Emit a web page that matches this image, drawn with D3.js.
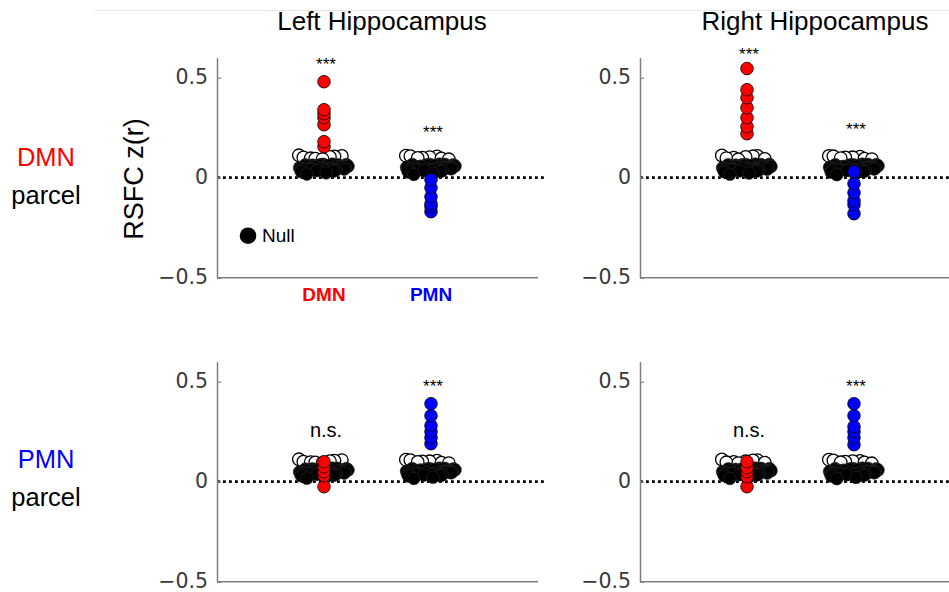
<!DOCTYPE html>
<html>
<head>
<meta charset="utf-8">
<script src="https://cdn.jsdelivr.net/npm/d3@7"></script>
<style>
  body { margin: 0; background: #fff; }
  svg { display: block; }
</style>
</head>
<body>
<svg id="chart" width="949" height="592"></svg>
<script>
// ---- categories and labels ----
const hemispheres = ["Left Hippocampus", "Right Hippocampus"];
const parcels = ["DMN", "PMN"];
const networks = ["DMN", "PMN"];
const yTicks = [-0.5, 0, 0.5];

// ---- observed RSFC z(r) values (hemisphere / parcel / network) ----
const leftDMNparcelDMN   = [0.48, 0.34, 0.32, 0.30, 0.265, 0.18, 0.155];
const leftDMNparcelPMN   = [-0.01, -0.05, -0.095, -0.13, -0.145, -0.17];
const rightDMNparcelDMN  = [0.546, 0.44, 0.40, 0.35, 0.30, 0.255, 0.22];
const rightDMNparcelPMN  = [0.03, -0.03, -0.075, -0.115, -0.135, -0.18];
const leftPMNparcelDMN   = [0.10, 0.075, 0.05, 0.03, -0.025];
const leftPMNparcelPMN   = [0.39, 0.33, 0.28, 0.25, 0.22, 0.19];
const rightPMNparcelDMN  = [0.10, 0.07, 0.05, 0.025, -0.025];
const rightPMNparcelPMN  = [0.39, 0.33, 0.275, 0.25, 0.22, 0.185];

// ---- null (spatially permuted) distributions ----
const nullLeftDMNparcelDMN  = [0.112,0.104,0.097,0.109,0.093,0.101,0.106,0.095,
  0.066,0.061,0.058,0.052,0.047,0.043,0.038,0.063,0.055,0.049,0.064,0.041,0.035,0.057,0.060,0.045,0.051,0.066,
  0.039,0.033,0.059,0.054,0.024,0.018,0.065,0.062,0.050,0.044,0.040,0.056,0.067,0.048,0.036,0.053,0.061,0.046,0.042,0.058,0.064,0.030,
  0.068,0.057,0.043,0.037,0.062,0.052];
const nullLeftDMNparcelPMN  = [0.110,0.106,0.099,0.092,0.103,0.108,0.096,0.100,
  0.065,0.059,0.053,0.048,0.044,0.040,0.062,0.056,0.050,0.037,0.066,0.046,0.034,0.058,0.061,0.042,0.052,0.064,
  0.038,0.031,0.057,0.049,0.021,0.016,0.067,0.063,0.051,0.045,0.041,0.055,0.066,0.047,0.035,0.054,0.060,0.043,0.039,0.059,0.062,0.028,
  0.068,0.056,0.044,0.036,0.063,0.050];
const nullRightDMNparcelDMN = [0.111,0.107,0.100,0.094,0.104,0.098,0.109,0.092,
  0.067,0.060,0.055,0.050,0.046,0.042,0.037,0.063,0.057,0.048,0.065,0.040,0.034,0.056,0.061,0.044,0.053,0.062,
  0.039,0.032,0.058,0.051,0.023,0.017,0.066,0.064,0.049,0.045,0.041,0.054,0.066,0.047,0.036,0.052,0.060,0.043,0.038,0.059,0.063,0.029,
  0.068,0.055,0.042,0.037,0.061,0.051];
const nullRightDMNparcelPMN = [0.109,0.105,0.098,0.093,0.102,0.107,0.095,0.101,
  0.066,0.058,0.054,0.049,0.045,0.041,0.063,0.055,0.051,0.036,0.065,0.047,0.035,0.059,0.060,0.043,0.050,0.064,
  0.037,0.030,0.056,0.048,0.022,0.015,0.067,0.062,0.052,0.044,0.040,0.057,0.065,0.046,0.034,0.053,0.061,0.042,0.038,0.058,0.063,0.027,
  0.068,0.056,0.043,0.037,0.062,0.050];
const nullLeftPMNparcelDMN  = [0.112,0.103,0.098,0.108,0.094,0.100,0.105,0.096,
  0.066,0.062,0.057,0.051,0.048,0.042,0.037,0.064,0.054,0.050,0.063,0.040,0.036,0.058,0.059,0.046,0.052,0.065,
  0.038,0.032,0.060,0.053,0.023,0.017,0.067,0.061,0.049,0.045,0.041,0.055,0.066,0.047,0.035,0.054,0.062,0.044,0.039,0.057,0.064,0.029,
  0.068,0.056,0.043,0.036,0.061,0.051];
const nullLeftPMNparcelPMN  = [0.110,0.105,0.099,0.093,0.102,0.108,0.095,0.101,
  0.064,0.060,0.054,0.047,0.045,0.039,0.063,0.057,0.049,0.036,0.066,0.045,0.033,0.059,0.062,0.043,0.053,0.063,
  0.037,0.030,0.058,0.050,0.022,0.016,0.067,0.061,0.052,0.044,0.040,0.056,0.065,0.048,0.035,0.055,0.060,0.042,0.038,0.058,0.064,0.028,
  0.068,0.057,0.044,0.037,0.062,0.051];
const nullRightPMNparcelDMN = [0.111,0.106,0.099,0.095,0.103,0.097,0.108,0.093,
  0.066,0.061,0.056,0.051,0.047,0.041,0.038,0.062,0.056,0.049,0.064,0.041,0.035,0.055,0.060,0.045,0.052,0.063,
  0.040,0.033,0.057,0.050,0.024,0.016,0.067,0.063,0.050,0.046,0.042,0.054,0.065,0.048,0.036,0.053,0.061,0.044,0.039,0.058,0.064,0.030,
  0.068,0.057,0.043,0.037,0.062,0.052];
const nullRightPMNparcelPMN = [0.110,0.104,0.097,0.092,0.103,0.106,0.096,0.100,
  0.065,0.059,0.055,0.048,0.044,0.040,0.062,0.056,0.050,0.037,0.066,0.046,0.034,0.058,0.061,0.042,0.051,0.064,
  0.038,0.031,0.057,0.049,0.021,0.015,0.067,0.062,0.051,0.045,0.041,0.055,0.066,0.047,0.035,0.053,0.060,0.043,0.039,0.059,0.063,0.028,
  0.068,0.056,0.044,0.036,0.061,0.050];

// ---- significance labels and their heights (data units) ----
const sigLeftDMNparcel  = ["***", "***"];
const sigRightDMNparcel = ["***", "***"];
const sigLeftPMNparcel  = ["n.s.", "***"];
const sigRightPMNparcel = ["n.s.", "***"];
const sigYLeftDMNparcel  = [0.54, 0.20];
const sigYRightDMNparcel = [0.59, 0.214];
const sigYLeftPMNparcel  = [0.225, 0.45];
const sigYRightPMNparcel = [0.225, 0.45];

// ---- panel table assembled from the arrays above ----
const panels = [
  { row: 0, col: 0, obs: [leftDMNparcelDMN, leftDMNparcelPMN],   nul: [nullLeftDMNparcelDMN, nullLeftDMNparcelPMN],   sig: sigLeftDMNparcel,  sigY: sigYLeftDMNparcel },
  { row: 0, col: 1, obs: [rightDMNparcelDMN, rightDMNparcelPMN], nul: [nullRightDMNparcelDMN, nullRightDMNparcelPMN], sig: sigRightDMNparcel, sigY: sigYRightDMNparcel },
  { row: 1, col: 0, obs: [leftPMNparcelDMN, leftPMNparcelPMN],   nul: [nullLeftPMNparcelDMN, nullLeftPMNparcelPMN],   sig: sigLeftPMNparcel,  sigY: sigYLeftPMNparcel },
  { row: 1, col: 1, obs: [rightPMNparcelDMN, rightPMNparcelPMN], nul: [nullRightPMNparcelDMN, nullRightPMNparcelPMN], sig: sigRightPMNparcel, sigY: sigYRightPMNparcel }
];

// ---- layout ----
const colX = [217, 640];
const rowY = [57.7, 361.7];
const W = 321, H = 220;
const R = 6.3;
const netColor = { DMN: "#ff0000", PMN: "#0000ff" };
const axisGray = "#7f7f7f";
const sans = "'Liberation Sans', Arial, sans-serif";
const tickFont = "'DejaVu Sans', sans-serif";

const svg = d3.select("#chart");

// thin rule across the top
svg.append("line")
  .attr("x1", 95).attr("x2", 949).attr("y1", 10.5).attr("y2", 10.5)
  .attr("stroke", "#e6e6e6").attr("stroke-width", 1);

// column titles
const titleX = [382, 815];
hemispheres.forEach((h, i) => {
  svg.append("text")
    .attr("x", titleX[i]).attr("y", 30)
    .attr("text-anchor", "middle")
    .attr("font-family", sans).attr("font-size", 26)
    .attr("fill", "#000")
    .text(h);
});

// row labels
const rowLabelY = [[166, 204], [468, 506]];
parcels.forEach((p, i) => {
  svg.append("text")
    .attr("x", 46).attr("y", rowLabelY[i][0])
    .attr("text-anchor", "middle")
    .attr("font-family", sans).attr("font-size", 25.5)
    .attr("fill", netColor[p])
    .text(p);
  svg.append("text")
    .attr("x", 46).attr("y", rowLabelY[i][1])
    .attr("text-anchor", "middle")
    .attr("font-family", sans).attr("font-size", 25.5)
    .attr("fill", "#000")
    .text("parcel");
});

// y-axis title
svg.append("text")
  .attr("transform", "translate(143,179) rotate(-90)")
  .attr("text-anchor", "middle")
  .attr("font-family", sans).attr("font-size", 27)
  .attr("fill", "#000")
  .text("RSFC z(r)");

const fmt = d => d === 0 ? "0" : d3.format(".1f")(d);
// deterministic horizontal spread of null markers within a category
const spread = i => ((i * 0.6180339887) % 1) - 0.5;

panels.forEach(p => {
  const g = svg.append("g")
    .attr("transform", `translate(${colX[p.col]},${rowY[p.row]})`);
  const x = d3.scaleLinear().domain([0, 3]).range([0, W]);
  const y = d3.scaleLinear().domain([-0.5, 0.6]).range([H, 0]);

  // zero reference line
  g.append("line")
    .attr("x1", x(0)).attr("x2", x(3.075))
    .attr("y1", y(0)).attr("y2", y(0))
    .attr("stroke", "#000").attr("stroke-width", 2.8)
    .attr("stroke-dasharray", "2.8,3.2");

  // y axis
  const ya = g.append("g")
    .call(d3.axisLeft(y).tickValues(yTicks).tickSizeInner(-4).tickSizeOuter(0)
      .tickPadding(9).tickFormat(fmt));
  ya.select(".domain").attr("stroke", axisGray).attr("stroke-width", 1.5);
  ya.selectAll(".tick line").attr("stroke", axisGray).attr("stroke-width", 1.2);
  ya.selectAll(".tick text")
    .attr("font-family", tickFont).attr("font-size", 20.5)
    .attr("dy", "0.26em")
    .attr("fill", "#3a3a3a");

  // x axis baseline
  g.append("line")
    .attr("x1", x(0)).attr("x2", x(3))
    .attr("y1", y(-0.5)).attr("y2", y(-0.5))
    .attr("stroke", axisGray).attr("stroke-width", 1.5);

  networks.forEach((net, k) => {
    const cx = x(k + 1);

    // null distribution: sparse upper tail drawn as open markers behind the dense core
    const nullPts = p.nul[k].map((v, i) => ({ v, dx: spread(i) * 0.47 }))
      .sort((a, b) => b.v - a.v);
    g.append("g").selectAll("circle")
      .data(nullPts)
      .join("circle")
      .attr("cx", d => x(k + 1 + d.dx))
      .attr("cy", d => y(d.v))
      .attr("r", R)
      .attr("fill", d => d.v >= 0.09 ? "#fff" : "#000")
      .attr("stroke", d => d.v >= 0.09 ? "#000" : "#2a2a2a")
      .attr("stroke-width", d => d.v >= 0.09 ? 1.3 : 0.6);

    // observed values
    g.append("g").selectAll("circle")
      .data(p.obs[k].slice().sort((a, b) => a - b))
      .join("circle")
      .attr("cx", cx)
      .attr("cy", d => y(d))
      .attr("r", R)
      .attr("fill", netColor[net])
      .attr("stroke", "#000").attr("stroke-width", 0.8);

    // significance
    const lab = p.sig[k];
    g.append("text")
      .attr("x", cx + 2)
      .attr("y", y(p.sigY[k]))
      .attr("text-anchor", "middle")
      .attr("font-family", sans)
      .attr("font-size", lab === "n.s." ? 20 : 17)
      .attr("fill", "#000")
      .text(lab);

    // category labels under the first panel only
    if (p.row === 0 && p.col === 0) {
      g.append("text")
        .attr("x", cx).attr("y", y(-0.5) + 23)
        .attr("text-anchor", "middle")
        .attr("font-family", sans).attr("font-size", 19).attr("font-weight", "bold")
        .attr("fill", netColor[net])
        .text(net);
    }
  });

  // legend
  if (p.row === 0 && p.col === 0) {
    g.append("circle")
      .attr("cx", 248 - colX[0]).attr("cy", y(-0.29))
      .attr("r", 8.3).attr("fill", "#000");
    g.append("text")
      .attr("x", 262 - colX[0]).attr("y", y(-0.29) + 6.5)
      .attr("font-family", sans).attr("font-size", 19)
      .attr("fill", "#000")
      .text("Null");
  }
});
</script>
</body>
</html>
